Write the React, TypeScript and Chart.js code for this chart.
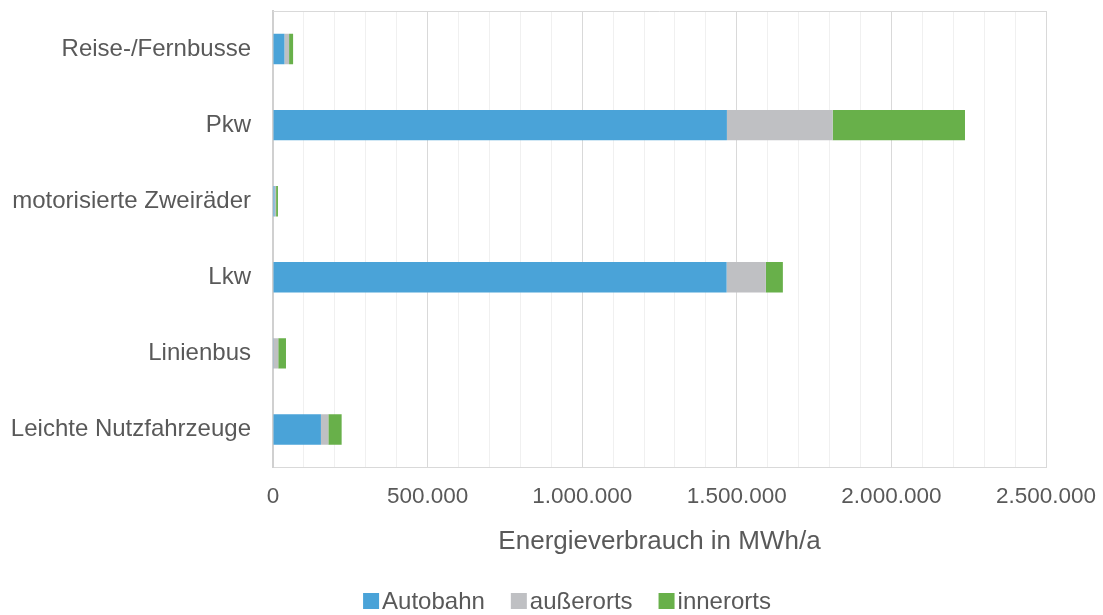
import React, { useEffect, useRef } from "react";
import { Chart, registerables } from "chart.js";

Chart.register(...registerables);

const categories = [
  "Reise-/Fernbusse",
  "Pkw",
  "motorisierte Zweiräder",
  "Lkw",
  "Linienbus",
  "Leichte Nutzfahrzeuge",
];
const autobahn = [37000, 1468000, 5000, 1467000, 1000, 155000];
const ausserorts = [15000, 342000, 5000, 127000, 16000, 24000];
const innerorts = [13000, 428000, 6000, 55000, 25000, 43000];

const xMin = 0;
const xMax = 2500000;
const xStep = 100000;
const labelStep = 500000;

const TEXT = "#595959";
const FONT = "'Liberation Sans', Arial, sans-serif";

function fmt(v: number): string {
  return String(Math.round(v)).replace(/\B(?=(\d{3})+(?!\d))/g, ".");
}

const frame = {
  id: "frame",
  afterDraw(chart: any) {
    const { ctx, chartArea } = chart;
    ctx.save();
    ctx.strokeStyle = "#d9d9d9";
    ctx.lineWidth = 1;
    ctx.beginPath();
    ctx.moveTo(chartArea.left, chartArea.top + 0.5);
    ctx.lineTo(chartArea.right + 0.5, chartArea.top + 0.5);
    ctx.lineTo(chartArea.right + 0.5, chartArea.bottom);
    ctx.stroke();
    ctx.restore();
  },
};

const customLegend = {
  id: "customLegend",
  afterDraw(chart: any) {
    const { ctx } = chart;
    const ds = chart.data.datasets;
    const box = 16;
    const gap = 3;
    const itemGap = 26;
    const cy = 601;
    const cx = 567;
    ctx.save();
    ctx.font = `24px ${FONT}`;
    ctx.textBaseline = "middle";
    ctx.textAlign = "left";
    const widths = ds.map((d: any) => box + gap + ctx.measureText(d.label).width);
    const total = widths.reduce((a: number, b: number) => a + b, 0) + itemGap * (ds.length - 1);
    let x = cx - total / 2;
    ds.forEach((d: any, i: number) => {
      ctx.fillStyle = d.backgroundColor;
      ctx.fillRect(x, cy - box / 2, box, box);
      ctx.fillStyle = TEXT;
      ctx.fillText(d.label, x + box + gap, cy + 1);
      x += widths[i] + itemGap;
    });
    ctx.restore();
  },
};

export default function App() {
  const ref = useRef<HTMLCanvasElement | null>(null);
  useEffect(() => {
    if (!ref.current) return;
    const chart = new Chart(ref.current, {
      type: "bar",
      data: {
        labels: categories,
        datasets: [
          { label: "Autobahn", data: autobahn, backgroundColor: "#4aa3d8" },
          { label: "außerorts", data: ausserorts, backgroundColor: "#bfc0c3" },
          { label: "innerorts", data: innerorts, backgroundColor: "#68b04a" },
        ],
      },
      options: {
        indexAxis: "y",
        animation: false,
        responsive: true,
        maintainAspectRatio: false,
        datasets: { bar: { categoryPercentage: 1, barPercentage: 0.4 } },
        layout: { padding: { left: 0, right: 57, top: 11, bottom: 44 } },
        plugins: {
          tooltip: { enabled: false },
          legend: { display: false },
        },
        scales: {
          x: {
            stacked: true,
            min: xMin,
            max: xMax,
            grid: {
              drawTicks: false,
              color: (c: any) =>
                c.tick && c.tick.value % labelStep === 0 ? "#d9d9d9" : "#f0f0f0",
            },
            border: { color: "#d9d9d9" },
            afterFit: (s: any) => {
              s.height = 103.5;
              s.paddingLeft = 0;
              s.paddingRight = 0;
            },
            ticks: {
              stepSize: xStep,
              autoSkip: false,
              maxRotation: 0,
              padding: 16,
              color: TEXT,
              font: { family: FONT, size: 22.5 },
              callback: (v: any) => (Number(v) % labelStep === 0 ? fmt(Number(v)) : ""),
            },
            title: {
              display: true,
              text: "Energieverbrauch in MWh/a",
              color: TEXT,
              font: { family: FONT, size: 26 },
              padding: { top: 10, bottom: 14 },
            },
          },
          y: {
            stacked: true,
            grid: { display: false, drawTicks: false },
            border: { color: "#d0d0d0", width: 2 },
            afterFit: (s: any) => {
              s.width = 273;
              s.paddingTop = 0;
              s.paddingBottom = 0;
            },
            ticks: {
              padding: 22,
              color: TEXT,
              font: { family: FONT, size: 24 },
            },
          },
        },
      },
      plugins: [frame, customLegend],
    });
    return () => chart.destroy();
  }, []);
  return (
    <div style={{ position: "absolute", left: 0, top: 0, width: 1103, height: 615 }}>
      <canvas ref={ref} />
    </div>
  );
}
